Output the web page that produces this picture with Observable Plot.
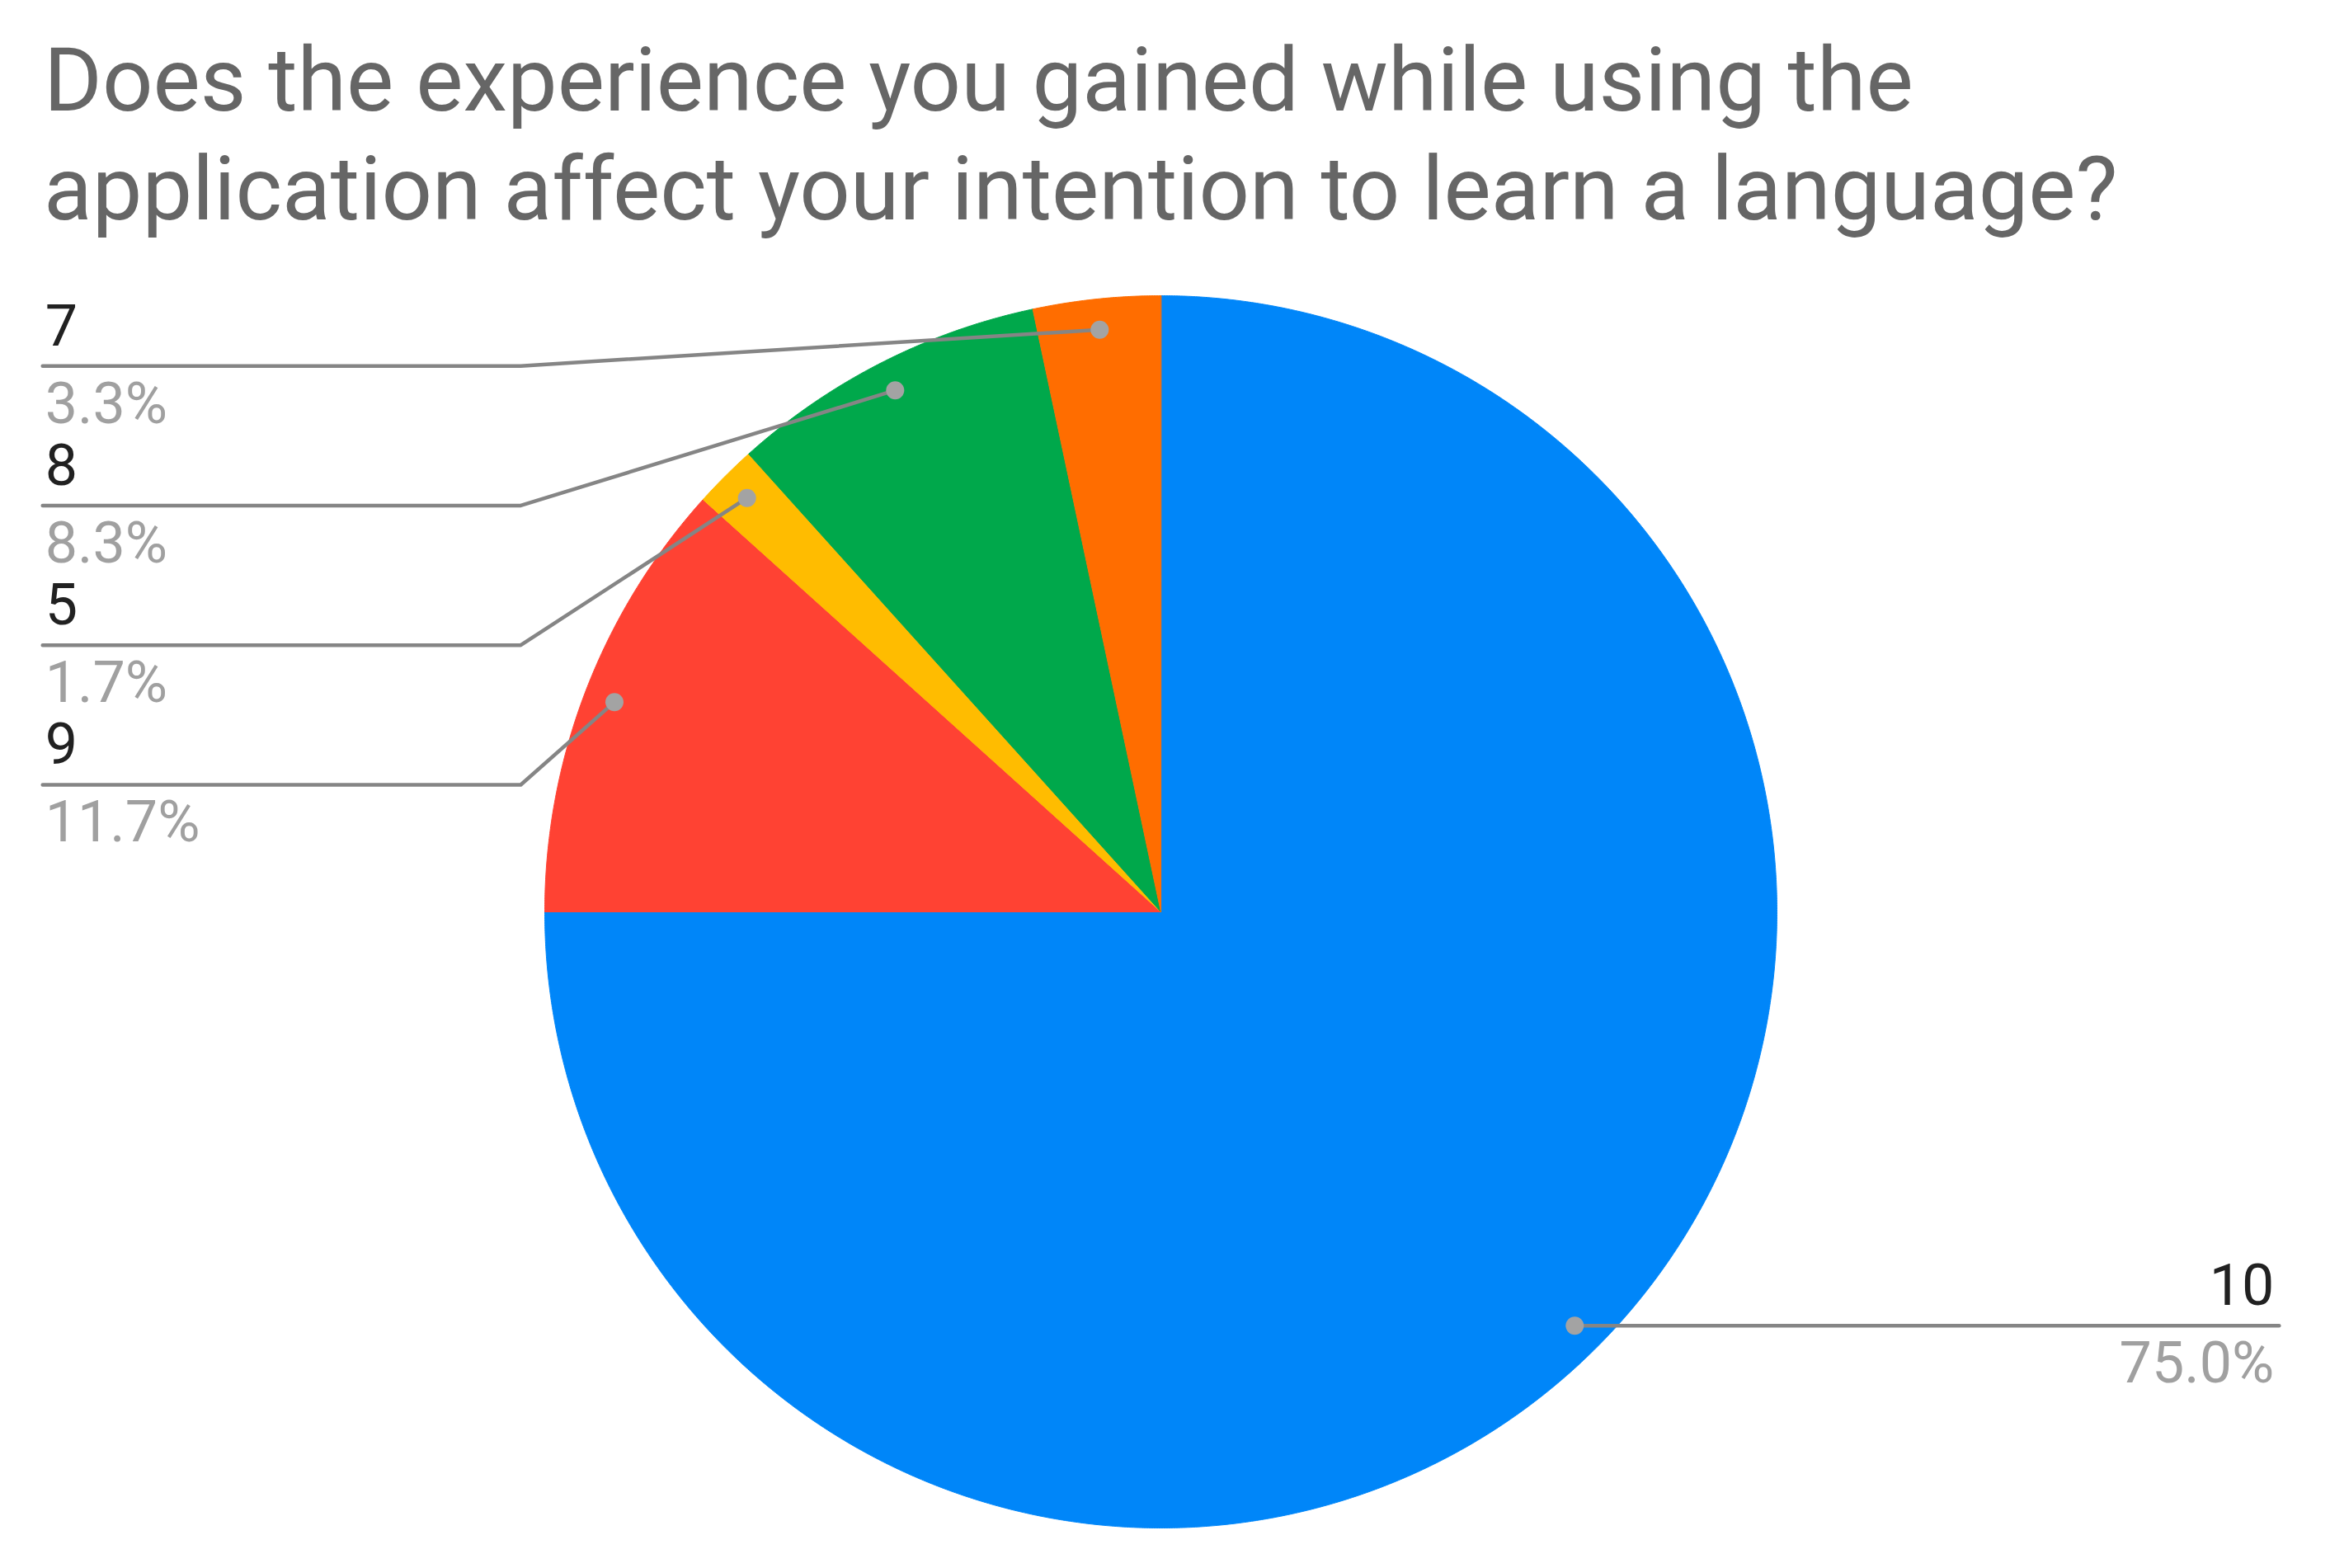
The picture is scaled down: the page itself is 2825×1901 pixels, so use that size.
<!DOCTYPE html>
<html>
<head>
<meta charset="utf-8">
<script src="https://cdn.jsdelivr.net/npm/d3@7"></script>
<script src="https://cdn.jsdelivr.net/npm/@observablehq/plot@0.6"></script>
<style>
html, body { margin: 0; padding: 0; background: #fff; }
#title {
  box-sizing: border-box; height: 300px; padding: 31px 0 0 53px;
  font-family: Roboto, "Liberation Sans", sans-serif; font-size: 108px; line-height: 132px;
  color: #666; white-space: nowrap;
}
#chart svg { display: block; overflow: visible; }
</style>
</head>
<body>
<div id="title">Does the experience you gained while using the<br>application affect your intention to learn a language?</div>
<div id="chart"></div>
<script>
// ---- data ----
const categories = ["10", "9", "5", "8", "7"];
const counts = [45, 7, 1, 5, 2];
const palette = ["#0086f9", "#ff4233", "#ffbc00", "#00a84b", "#ff6d00"];

// ---- geometry from data ----
const total = d3.sum(counts);
const arcs = d3.pie().sort(null).value(d => d)(counts);

const slices = arcs.flatMap((a, i) => {
  const n = Math.max(2, Math.ceil((a.endAngle - a.startAngle) / 0.004));
  const pts = [{key: categories[i], x: 0, y: 0}];
  for (let k = 0; k <= n; k++) {
    const t = a.startAngle + (a.endAngle - a.startAngle) * k / n;
    pts.push({key: categories[i], x: Math.sin(t), y: Math.cos(t)});
  }
  return pts;
});

const DOT = 0.95;
const info = arcs.map((a, i) => {
  const m = (a.startAngle + a.endAngle) / 2;
  return {
    key: categories[i],
    pct: (counts[i] / total * 100).toFixed(1) + "%",
    dx: DOT * Math.sin(m),
    dy: DOT * Math.cos(m)
  };
});

// label layout (in radius units)
const left = info.filter(d => d.dx < 0).sort((a, b) => b.dy - a.dy);
const right = info.filter(d => d.dx >= 0);
left.forEach((d, i) => { d.ly = 0.886 - i * 0.2266; d.ex = -1.039; d.end = -1.815; d.tx = -1.811; });
right.forEach(d => { d.ly = d.dy; d.ex = d.dx; d.end = 1.815; d.tx = 1.807; });

const leaders = info.flatMap(d => [
  {key: d.key, x: d.dx, y: d.dy},
  {key: d.key, x: d.ex, y: d.ly},
  {key: d.key, x: d.end, y: d.ly}
]);

const FS = 70;
const chart = Plot.plot({
  width: 2825,
  height: 1601,
  marginLeft: 660,
  marginRight: 671,
  marginTop: 58,
  marginBottom: 49,
  x: {domain: [-1, 1], axis: null},
  y: {domain: [-1, 1], axis: null},
  color: {domain: categories, range: palette},
  style: {fontFamily: "Roboto, 'Liberation Sans', sans-serif", background: "#fff", overflow: "visible"},
  marks: [
    Plot.line(slices, {x: "x", y: "y", z: "key", fill: "key", stroke: "key", strokeWidth: 1, curve: "linear-closed"}),
    Plot.line(leaders, {x: "x", y: "y", z: "key", stroke: "#858585", strokeWidth: 4.5}),
    Plot.dot(info, {x: "dx", y: "dy", r: 11, fill: "#a3a3a3", stroke: null}),
    Plot.text(left, {x: "tx", y: "ly", text: "key", textAnchor: "start", lineAnchor: "bottom", dy: -25, fontSize: FS, fill: "#212121"}),
    Plot.text(left, {x: "tx", y: "ly", text: "pct", textAnchor: "start", lineAnchor: "bottom", dy: 69, fontSize: FS, fill: "#a0a0a0"}),
    Plot.text(right, {x: "tx", y: "ly", text: "key", textAnchor: "end", lineAnchor: "bottom", dy: -25, fontSize: FS, fill: "#212121"}),
    Plot.text(right, {x: "tx", y: "ly", text: "pct", textAnchor: "end", lineAnchor: "bottom", dy: 69, fontSize: FS, fill: "#a0a0a0"})
  ]
});
document.getElementById("chart").appendChild(chart);
</script>
</body>
</html>
